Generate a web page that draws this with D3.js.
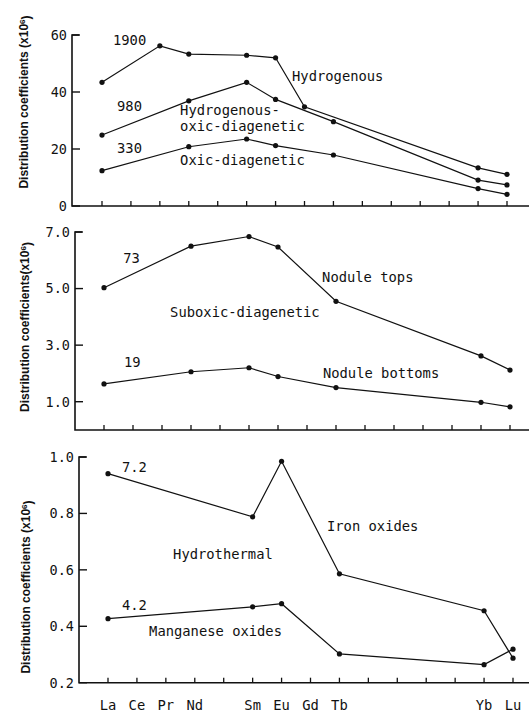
<!DOCTYPE html>
<html lang="en">
<head>
  <meta charset="UTF-8">
  <title>REE distribution coefficients</title>
  <script src="https://d3js.org/d3.v7.min.js"></script>
  <style>
    body { margin: 0; background: #fff; }
    .lbl { font-family: 'DejaVu Sans Mono', monospace; font-size: 13.8px; fill: #111; }
    .tick { font-family: 'DejaVu Sans Mono', monospace; font-size: 13.5px; fill: #111; }
    .ytitle { font-family: 'Liberation Sans', Arial, sans-serif; font-weight: bold; font-size: 12px; fill: #111; }
  </style>
</head>
<body>
  <svg id="chart"></svg>
  <script>
    const width = 529, height = 712;

    // rare earth elements along the x axis (blank = unlabelled tick)
    const elements = ["La","Ce","Pr","Nd","Pm","Sm","Eu","Gd","Tb","Dy","Ho","Er","Tm","Yb","Lu"];
    const elementLabels = ["La","Ce","Pr","Nd","","Sm","Eu","Gd","Tb","","","","","Yb","Lu"];

    // panel 1 (x10^6)
    const hydrogenous = [["La",43.4],["Pr",56.2],["Nd",53.3],["Sm",52.9],["Eu",52.0],["Gd",34.8],["Yb",13.4],["Lu",11.1]];
    const hydroOxic = [["La",24.9],["Nd",36.9],["Sm",43.4],["Eu",37.4],["Tb",29.6],["Yb",9.1],["Lu",7.4]];
    const oxicDiagenetic = [["La",12.4],["Nd",20.8],["Sm",23.5],["Eu",21.2],["Tb",17.9],["Yb",6.1],["Lu",4.1]];
    const ticks1 = [0, 20, 40, 60];

    // panel 2
    const noduleTops = [["La",5.03],["Nd",6.5],["Sm",6.84],["Eu",6.47],["Tb",4.55],["Yb",2.62],["Lu",2.12]];
    const noduleBottoms = [["La",1.63],["Nd",2.06],["Sm",2.2],["Eu",1.89],["Tb",1.5],["Yb",0.98],["Lu",0.82]];
    const ticks2 = [1.0, 3.0, 5.0, 7.0];

    // panel 3
    const ironOxides = [["La",0.941],["Sm",0.788],["Eu",0.985],["Tb",0.586],["Yb",0.455],["Lu",0.287]];
    const manganeseOxides = [["La",0.427],["Sm",0.469],["Eu",0.48],["Tb",0.302],["Yb",0.264],["Lu",0.319]];
    const ticks3 = [0.2, 0.4, 0.6, 0.8, 1.0];

    // annotations: [text, element position (index), value]
    const notes1 = [["1900",0.38,58.2],["980",0.52,35.1],["330",0.52,20.4],["Hydrogenous",6.57,45.6],
                    ["Hydrogenous-",2.7,33.7],["oxic-diagenetic",2.7,28.1],["Oxic-diagenetic",2.7,16.1]];
    const notes2 = [["73",0.66,6.07],["Nodule tops",7.52,5.4],["Suboxic-diagenetic",2.28,4.16],
                    ["19",0.69,2.4],["Nodule bottoms",7.55,2.01]];
    const notes3 = [["7.2",0.48,0.966],["Iron oxides",7.57,0.757],["Hydrothermal",2.25,0.657],
                    ["4.2",0.48,0.476],["Manganese oxides",1.42,0.384]];

    const svg = d3.select("#chart").attr("width", width).attr("height", height);

    const panels = [
      { axisX: 72, first: 102, last: 507, bottom: 206, top: 35, domain: [0, 60], ticks: ticks1, fmt: d3.format("d"),
        series: [hydrogenous, hydroOxic, oxicDiagenetic], notes: notes1,
        title: "Distribution coefficients (x10", titleX: 24, titleY: 102, xLabels: false },
      { axisX: 75, first: 104, last: 510, bottom: 430, top: 232, domain: [0, 7], ticks: ticks2, fmt: d3.format(".1f"),
        series: [noduleTops, noduleBottoms], notes: notes2,
        title: "Distribution  coefficients(x10", titleX: 25, titleY: 327, xLabels: false },
      { axisX: 79, first: 108, last: 513, bottom: 682.7, top: 457, domain: [0.2, 1.0], ticks: ticks3, fmt: d3.format(".1f"),
        series: [ironOxides, manganeseOxides], notes: notes3,
        title: "Distribution coefficients (x10", titleX: 26, titleY: 587, xLabels: true }
    ];

    panels.forEach(p => {
      const x = d3.scaleLinear().domain([0, elements.length - 1]).range([p.first, p.last]);
      const y = d3.scaleLinear().domain(p.domain).range([p.bottom, p.top]);
      const g = svg.append("g");

      // axes
      g.append("path")
        .attr("d", `M${p.axisX + 7},${p.top}H${p.axisX}V${p.bottom}H${width}`)
        .attr("fill", "none").attr("stroke", "#111").attr("stroke-width", 1.6);

      g.selectAll(".yt").data(p.ticks).enter().append("line")
        .attr("x1", p.axisX).attr("x2", p.axisX + 8)
        .attr("y1", d => y(d)).attr("y2", d => y(d))
        .attr("stroke", "#111").attr("stroke-width", 1.4);

      g.selectAll(".ytl").data(p.ticks).enter().append("text")
        .attr("class", "tick")
        .attr("x", p.axisX - 5).attr("y", d => y(d))
        .attr("dy", "0.36em").attr("text-anchor", "end")
        .text(d => p.fmt(d));

      g.selectAll(".xt").data(elements).enter().append("line")
        .attr("x1", (d, i) => x(i)).attr("x2", (d, i) => x(i))
        .attr("y1", p.bottom).attr("y2", p.bottom - 5)
        .attr("stroke", "#111").attr("stroke-width", 1.3);

      if (p.xLabels) {
        g.selectAll(".xl").data(elementLabels).enter().append("text")
          .attr("class", "lbl")
          .attr("x", (d, i) => x(i)).attr("y", p.bottom + 27)
          .attr("text-anchor", "middle")
          .text(d => d);
      }

      // title
      const t = g.append("text")
        .attr("class", "ytitle")
        .attr("transform", `translate(${p.titleX},${p.titleY}) rotate(-90)`)
        .attr("text-anchor", "middle")
        .attr("dy", "0.35em");
      t.append("tspan").text(p.title);
      t.append("tspan").attr("dy", "-0.45em").attr("font-size", "8px").text("6");
      t.append("tspan").attr("dy", "0.45em").text(")");

      // series
      const line = d3.line()
        .x(d => x(elements.indexOf(d[0])))
        .y(d => y(d[1]));

      p.series.forEach(s => {
        g.append("path").datum(s)
          .attr("d", line)
          .attr("fill", "none").attr("stroke", "#111").attr("stroke-width", 1.2);
        g.selectAll(null).data(s).enter().append("circle")
          .attr("cx", d => x(elements.indexOf(d[0])))
          .attr("cy", d => y(d[1]))
          .attr("r", 2.6).attr("fill", "#111");
      });

      g.selectAll(".note").data(p.notes).enter().append("text")
        .attr("class", "lbl")
        .attr("x", d => x(d[1])).attr("y", d => y(d[2]))
        .attr("dy", "0.36em")
        .text(d => d[0]);
    });
  </script>
</body>
</html>
